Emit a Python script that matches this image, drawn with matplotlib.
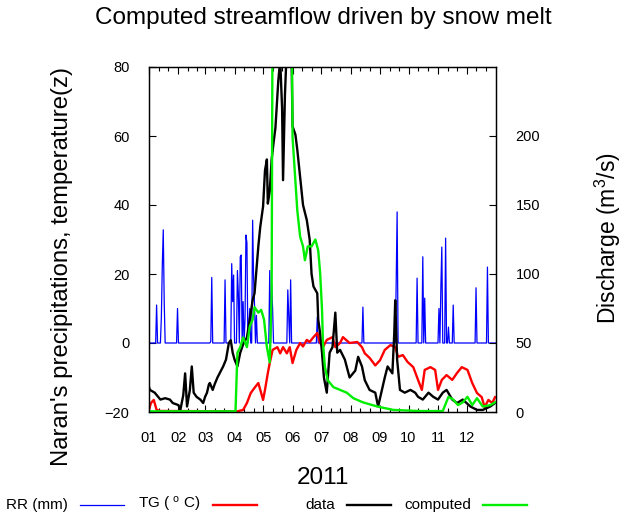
import numpy as np
import matplotlib
matplotlib.use('Agg')
import matplotlib.pyplot as plt
from matplotlib.lines import Line2D

plt.rcParams['font.family'] = ['Liberation Sans', 'DejaVu Sans']
plt.rcParams['mathtext.fontset'] = 'custom'
plt.rcParams['mathtext.rm'] = 'Liberation Sans'
plt.rcParams['mathtext.it'] = 'Liberation Sans'

# --- data (day of year 2011) ---
# RR precipitation (mm), only rainy days
rr_day = [8, 13, 14, 15, 16, 30, 65, 66, 80, 87, 88, 89, 93, 94, 96, 97, 99, 101,
          102, 103, 105, 106, 109, 110, 111, 113, 127, 129, 130, 146, 147, 149, 177,
          225, 260, 261, 282, 288, 290, 305, 307, 308, 312, 315, 320, 344, 356]
rr_mm = [11, 7.5, 22.6, 32.8, 12, 10, 0.5, 19, 18.3, 23, 12, 19.7, 21, 14, 25, 25.5, 12, 7,
         31.3, 29, 5, 10, 35.6, 19, 11, 8, 21, 17, 10, 15.4, 8, 18.3, 7.5,
         10.4, 17.4, 38, 18.8, 25, 13, 10, 16, 27.8, 30.4, 4.6, 11, 16, 22]

# TG temperature (deg C)
t_day = [0, 2, 5, 8, 12, 93, 99, 103, 107, 111,
         115, 118, 120, 122, 125, 127, 130, 135, 138, 141,
         145, 148, 151, 155, 159, 162, 166, 169, 173, 177,
         180, 183, 187, 193, 196, 201, 204, 211, 219, 224,
         227, 232, 238, 243, 248, 254, 259, 262, 267, 272,
         278, 283, 287, 290, 296, 301, 304, 308, 313, 319,
         324, 329, 335, 340, 345, 350, 353, 357, 361, 364]
t_deg = [-19.4, -17.4, -16.5, -19.4, -19.7, -19.8, -19.4, -17.4, -14.5, -13,
         -11.6, -14.5, -16.5, -13.6, -8.7, -5.8, -2, -1.2, -3, -1.2,
         -3, -1.2, -5.8, -2, 0, -1, 0.9, 0.3, 1.7, 2.9,
         0, -1.2, 0.9, 1.7, -1.2, 0, 1.7, 0, 0.3, -1.2,
         -3, -4.3, -6.5, -5, -2, -0.6, -1.2, -4, -3.5, -5.5,
         -7, -10.7, -13.6, -7.8, -7, -7.8, -13.6, -10.7, -9.3, -10.7,
         -8.7, -7, -7.8, -11.6, -14.5, -15.7, -18.6, -16.5, -17.4, -15.7]

# observed discharge (m3/s)
q_day = [0, 1, 6, 12, 17, 22, 25, 31, 33, 36,
         38, 40, 43, 45, 47, 50, 54, 57, 59, 61,
         63, 64, 67, 69, 72, 75, 78, 81, 84, 86,
         88, 90, 93, 96, 99, 103, 106, 109, 111, 113,
         115, 117, 120, 122, 124, 125, 127, 129, 131, 133,
         136, 138, 140, 141, 143, 145, 148, 150, 151, 154,
         156, 159, 162, 166, 169, 171, 173, 177, 178, 180,
         182, 184, 187, 190, 193, 196, 198, 201, 206, 211,
         217, 220, 224, 227, 232, 238, 241, 245, 248, 251,
         256, 258, 259, 261, 264, 269, 275, 280, 283, 288,
         294, 299, 304, 309, 313, 319, 324, 330, 338, 345,
         351, 359, 364]
q_cms = [18, 16, 14, 9, 10, 9, 6.5, 5, 1.5, 12,
         28, 4, 16, 33, 14, 11, 9, 6.5, 11, 14,
         20, 21, 16, 20, 25, 29, 33, 38, 50, 52,
         43, 38, 33, 43, 49, 54, 67, 81, 86, 103,
         120, 134, 149, 175, 183, 151, 160, 183, 195, 206,
         240, 255, 220, 168, 230, 265, 275, 255, 207, 201,
         190, 170, 150, 139, 125, 100, 91, 86, 67, 57,
         43, 25, 14, 43, 47, 72, 43, 45, 38, 25,
         30, 40, 33, 23, 16, 14, 4, 16, 25, 33,
         28, 57, 81, 38, 16, 14, 16, 14, 11, 9,
         14, 11, 9, 14, 16, 9, 6.5, 9, 4, 1.5,
         1.5, 4, 6.5]

# computed discharge (m3/s)
g_day = [0, 91, 93, 96, 99, 103, 106, 109, 111, 115,
         118, 121, 124, 127, 129, 130, 140, 150, 151, 156,
         159, 162, 164, 167, 171, 175, 178, 180, 182, 183,
         185, 188, 194, 201, 208, 215, 225, 240, 257, 285,
         309, 315, 320, 325, 330, 335, 340, 345, 351, 359,
         364]
g_cms = [0.5, 0.5, 43, 47, 54, 47, 62, 67, 76, 72,
         74, 67, 47, 36, 86, 300, 300, 300, 199, 146,
         127, 120, 110, 120, 120, 125, 117, 101, 74, 50,
         33, 23, 18, 16, 14, 10, 7, 4, 1.5, 0.7,
         0.7, 11, 9, 5, 7, 11, 5, 10, 4, 5,
         7]

month_start = [0, 31, 59, 90, 120, 151, 181, 212, 243, 273, 304, 334]
month_lab = ['01', '02', '03', '04', '05', '06', '07', '08', '09', '10', '11', '12']

W, H = 638, 520
fig = plt.figure(figsize=(W / 100, H / 100), dpi=100)
ax = fig.add_axes([149 / W, 108 / H, 347 / W, 345 / H])

days = np.arange(366)
rr = np.zeros(366)
rr[rr_day] = rr_mm
ax.plot(days, rr, color='#0000ff', lw=0.9)
ax.plot(t_day, t_deg, color='#ff0000', lw=1.7)

ax.set_xlim(0, 365)
ax.set_ylim(-20, 80)
ax.set_yticks(range(-20, 81, 20))
ax.set_xticks(month_start)
ax.set_xticklabels(month_lab)
minor = [m + k for m in month_start for k in (10, 20)]
ax.set_xticks(minor, minor=True)
ax.tick_params(axis='both', which='both', direction='in', top=True, right=False,
               labelsize=10.5, pad=14, length=5, width=0.8)
ax.tick_params(axis='x', which='minor', length=3)

ax2 = ax.twinx()
ax2.plot(q_day, q_cms, color='black', lw=1.7)
ax2.plot(g_day, g_cms, color='#00ee00', lw=1.7)
ax2.set_ylim(0, 250)
ax2.set_yticks([0, 50, 100, 150, 200])
ax2.tick_params(direction='in', labelsize=10.5, pad=14, length=5, width=0.8)
for a in (ax, ax2):
    for s in a.spines.values():
        s.set_linewidth(0.9)

fig.text(323 / W, 1 - 18 / H, 'Computed streamflow driven by snow melt',
         ha='center', va='center', fontsize=17.5)
fig.text(62 / W, 1 - 266 / H, "Naran's precipitations, temperature(z)",
         rotation=90, ha='center', va='center', fontsize=17.2)
fig.text(608 / W, 1 - 238 / H, 'Discharge (m$^3$/s)',
         rotation=90, ha='center', va='center', fontsize=16.5)
fig.text(323 / W, 1 - 478 / H, '2011', ha='center', va='center', fontsize=17.5)

# key along the bottom: text then line sample
key_lab = ['RR (mm)', 'TG ( $^{\\rm o}$ C)', 'data', 'computed']
key_col = ['#0000ff', '#ff0000', 'black', '#00ee00']
key_x = [80, 213, 347, 483]
ky = 1 - 505 / H
for lab, col, x0 in zip(key_lab, key_col, key_x):
    fig.text((x0 - 12) / W, ky, lab, ha='right', va='center', fontsize=11)
    fig.add_artist(Line2D([x0 / W, (x0 + 44) / W], [ky, ky], color=col,
                          lw=0.9 if col == '#0000ff' else 1.7,
                          transform=fig.transFigure))

fig.savefig('out.png', dpi=100)
